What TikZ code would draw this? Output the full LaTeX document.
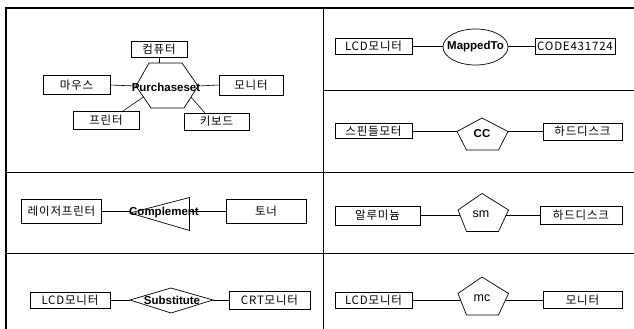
\documentclass[tikz,border=0pt]{standalone}
\usepackage{fontspec}
\setmainfont[LetterSpace=7]{Noto Sans CJK KR}
\newfontfamily\latfont{Liberation Sans}
\usetikzlibrary{shapes.geometric,calc}
\begin{document}
\begin{tikzpicture}[x=1pt,y=-1pt,
  ent/.style={draw, line width=0.7pt, inner sep=0pt, font=\fontsize{11.5}{12}\selectfont},
  rel/.style={font=\latfont\bfseries\fontsize{11.5}{12}\selectfont, inner sep=0pt},
  relr/.style={font=\latfont\fontsize{12.5}{13}\selectfont, inner sep=0pt},
  conn/.style={line width=0.6pt},
  shp/.style={line width=0.7pt},
  rule/.style={line width=0.8pt}]
\useasboundingbox (0,0) rectangle (634,329);
% table
\draw[line width=2.4pt] (6,329) -- (6,8) -- (634,8);
\draw[rule] (323,8) -- (323,329);
\draw[rule] (6,172) -- (634,172);
\draw[rule] (6,253) -- (634,253);
\draw[rule] (323,90) -- (634,90);

% ---- Purchaseset
\node[ent, minimum width=56pt, minimum height=16pt] (comp) at (159,49) {컴퓨터};
\node[ent, minimum width=67pt, minimum height=19pt] (mouse) at (76.5,85) {마우스};
\node[ent, minimum width=64pt, minimum height=20pt] (mon1) at (251,85) {모니터};
\node[ent, minimum width=66pt, minimum height=18pt] (prn) at (106,120) {프린터};
\node[ent, minimum width=65pt, minimum height=17pt] (kbd) at (216.5,121.5) {키보드};
\coordinate (h1) at (149,63);
\coordinate (h2) at (182,63);
\coordinate (h3) at (198,86);
\coordinate (h4) at (184,108);
\coordinate (h5) at (151,108);
\coordinate (h6) at (136,86);
\draw[shp] (h1)--(h2)--(h3)--(h4)--(h5)--(h6)--cycle;
\coordinate (hll) at ($(h5)!0.5!(h6)$);
\coordinate (hlr) at ($(h3)!0.5!(h4)$);
\draw[conn] (mouse.east) -- (h6);
\draw[conn] (h3) -- (mon1.west);
\draw[conn] (comp.south) -- (comp.south |- h1);
\draw[conn] ($(prn.north east)+(-16,0)$) -- (hll);
\draw[conn] ($(kbd.north west)+(21,0)$) -- (hlr);
\node[rel] (pur) at (166,87) {Purchaseset};

% ---- MappedTo
\node[ent, minimum width=77pt, minimum height=16pt] (lcd1) at (373.5,46) {LCD모니터};
\node[draw, ellipse, shp, minimum width=65pt, minimum height=36pt, inner sep=0pt] (mt) at (475.5,47) {};
\node[rel] (mtl) at (475.5,47) {MappedTo};
\node[ent, minimum width=80pt, minimum height=16pt] (code) at (575,46) {CODE431724};
\draw[conn] (lcd1.east) -- (lcd1.east -| mt.west);
\draw[conn] (code.west -| mt.east) -- (code.west);

% ---- CC
\node[ent, minimum width=77pt, minimum height=15pt] (spm) at (373.5,131) {스핀들모터};
\node[ent, minimum width=79pt, minimum height=17pt] (hdd1) at (582.5,131.5) {하드디스크};
\coordinate (c1) at (482,118);
\coordinate (c2) at (508,131.5);
\coordinate (c3) at (498.5,150);
\coordinate (c4) at (466.5,150);
\coordinate (c5) at (457,131.5);
\draw[shp] (c1)--(c2)--(c3)--(c4)--(c5)--cycle;
\node[rel] (ccl) at (482,134) {CC};
\draw[conn] (spm.east) -- (spm.east -| c5);
\draw[conn] (hdd1.west -| c2) -- (hdd1.west);

% ---- sm
\node[ent, minimum width=85pt, minimum height=19pt] (alu) at (377.5,215.5) {알루미늄};
\node[ent, minimum width=82pt, minimum height=18pt] (hdd2) at (581,215.5) {하드디스크};
\coordinate (s1) at (482,193.5);
\coordinate (s2) at (508.5,210);
\coordinate (s3) at (498.5,231.5);
\coordinate (s4) at (466.5,231.5);
\coordinate (s5) at (458,210);
\draw[shp] (s1)--(s2)--(s3)--(s4)--(s5)--cycle;
\node[relr] (sml) at (481,214) {sm};
\draw[conn] (alu.east) -- (460.3,215.5);
\draw[conn] (506.2,215.5) -- (hdd2.west);

% ---- Complement
\node[ent, minimum width=80pt, minimum height=24pt] (laser) at (61.5,211) {레이저프린터};
\node[ent, minimum width=80pt, minimum height=24pt] (toner) at (266,211) {토너};
\coordinate (t1) at (130,213);
\coordinate (t2) at (189.5,197.5);
\coordinate (t3) at (189.5,230.5);
\draw[shp] (t1)--(t2)--(t3)--cycle;
\draw[conn] (laser.east) -- (laser.east -| t1);
\draw[conn] (toner.west -| t2) -- (toner.west);
\node[rel] (cpl) at (164,213) {Complement};

% ---- Substitute
\node[ent, minimum width=80pt, minimum height=16pt] (lcd2) at (70,300) {LCD모니터};
\node[ent, minimum width=81pt, minimum height=18pt] (crt) at (269.5,300) {CRT모니터};
\coordinate (d1) at (130,300);
\coordinate (d2) at (171,288);
\coordinate (d3) at (213,300);
\coordinate (d4) at (171,313);
\draw[shp] (d1)--(d2)--(d3)--(d4)--cycle;
\draw[conn] (lcd2.east) -- (d1);
\draw[conn] (d3) -- (crt.west);
\node[rel] (sub) at (172,300) {Substitute};

% ---- mc
\node[ent, minimum width=77pt, minimum height=16pt] (lcd3) at (373.5,300) {LCD모니터};
\node[ent, minimum width=79pt, minimum height=17pt] (mon2) at (582.5,300) {모니터};
\coordinate (m1) at (482,277);
\coordinate (m2) at (508.5,293.5);
\coordinate (m3) at (498.5,315);
\coordinate (m4) at (466.5,315);
\coordinate (m5) at (458,293.5);
\draw[shp] (m1)--(m2)--(m3)--(m4)--(m5)--cycle;
\node[relr] (mcl) at (482,298) {mc};
\draw[conn] (lcd3.east) -- (460.8,300);
\draw[conn] (505.8,300) -- (mon2.west);
\end{tikzpicture}
\end{document}
